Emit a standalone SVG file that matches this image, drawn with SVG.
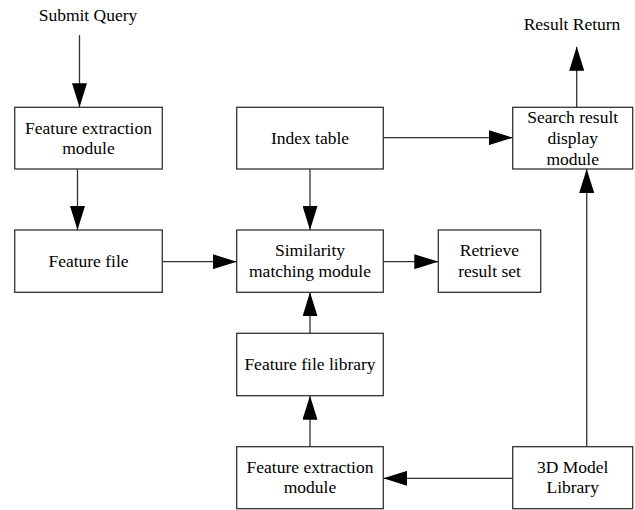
<svg xmlns="http://www.w3.org/2000/svg" width="635" height="510" viewBox="0 0 635 510">
<style>
.box{fill:#fff;stroke:#333;stroke-width:1.3}
.t{font-family:"Liberation Serif","Times New Roman",serif;font-size:17.5px;fill:#000;text-anchor:middle}
.c{fill:none;stroke:#333;stroke-width:1.3}
</style>
<defs>
<marker id="ah" markerUnits="userSpaceOnUse" markerWidth="24" markerHeight="15" refX="24" refY="7.5" orient="auto">
<path d="M0,0 L24,7.5 L0,15 Z" fill="#000"/>
</marker>
</defs>
<rect width="635" height="510" fill="#fff"/>
<text class="t" x="88" y="21">Submit Query</text>
<text class="t" x="572" y="30">Result Return</text>
<g id="connectors">
<line class="c" x1="79.5" y1="35" x2="79.5" y2="107.3" marker-end="url(#ah)"/>
<line class="c" x1="77.5" y1="169" x2="77.5" y2="230" marker-end="url(#ah)"/>
<line class="c" x1="310" y1="169" x2="310" y2="230" marker-end="url(#ah)"/>
<line class="c" x1="162.3" y1="261.7" x2="236.7" y2="261.7" marker-end="url(#ah)"/>
<line class="c" x1="383.3" y1="261.7" x2="438.3" y2="261.7" marker-end="url(#ah)"/>
<line class="c" x1="383.3" y1="137.7" x2="512.7" y2="137.7" marker-end="url(#ah)"/>
<line class="c" x1="576.7" y1="107.3" x2="576.7" y2="46.7" marker-end="url(#ah)"/>
<line class="c" x1="586.7" y1="446.7" x2="586.7" y2="169" marker-end="url(#ah)"/>
<line class="c" x1="310" y1="333.3" x2="310" y2="292.3" marker-end="url(#ah)"/>
<line class="c" x1="310" y1="446.7" x2="310" y2="395.7" marker-end="url(#ah)"/>
<line class="c" x1="512.7" y1="478.3" x2="383.3" y2="478.3" marker-end="url(#ah)"/>
</g>
<g id="fem-top">
<rect class="box" x="14.7" y="107.3" width="147.6" height="61.7"/>
<text class="t" x="88.5" y="133.7">Feature extraction</text>
<text class="t" x="88.5" y="154">module</text>
</g>
<g id="feature-file">
<rect class="box" x="14.7" y="230" width="147.6" height="62.3"/>
<text class="t" x="88.5" y="267">Feature file</text>
</g>
<g id="index-table">
<rect class="box" x="236.7" y="107.3" width="146.6" height="61.7"/>
<text class="t" x="310" y="144">Index table</text>
</g>
<g id="similarity">
<rect class="box" x="236.7" y="230" width="146.6" height="62.3"/>
<text class="t" x="310" y="255.5">Similarity</text>
<text class="t" x="310" y="276.5">matching module</text>
</g>
<g id="retrieve">
<rect class="box" x="438.3" y="230" width="102.4" height="62.3"/>
<text class="t" x="489.5" y="256">Retrieve</text>
<text class="t" x="489.5" y="277">result set</text>
</g>
<g id="search-result">
<rect class="box" x="512.7" y="107.3" width="120" height="61.7"/>
<text class="t" x="572.7" y="122.5">Search result</text>
<text class="t" x="572.7" y="143.5">display</text>
<text class="t" x="572.7" y="164.5">module</text>
</g>
<g id="feature-file-library">
<rect class="box" x="236.7" y="333.3" width="146.6" height="62.4"/>
<text class="t" x="310" y="370">Feature file library</text>
</g>
<g id="fem-bottom">
<rect class="box" x="236.7" y="446.7" width="146.6" height="62"/>
<text class="t" x="310" y="473.3">Feature extraction</text>
<text class="t" x="310" y="493.3">module</text>
</g>
<g id="model-library">
<rect class="box" x="512.7" y="446.7" width="120" height="62"/>
<text class="t" x="572.7" y="473.3">3D Model</text>
<text class="t" x="572.7" y="493.3">Library</text>
</g>
</svg>
